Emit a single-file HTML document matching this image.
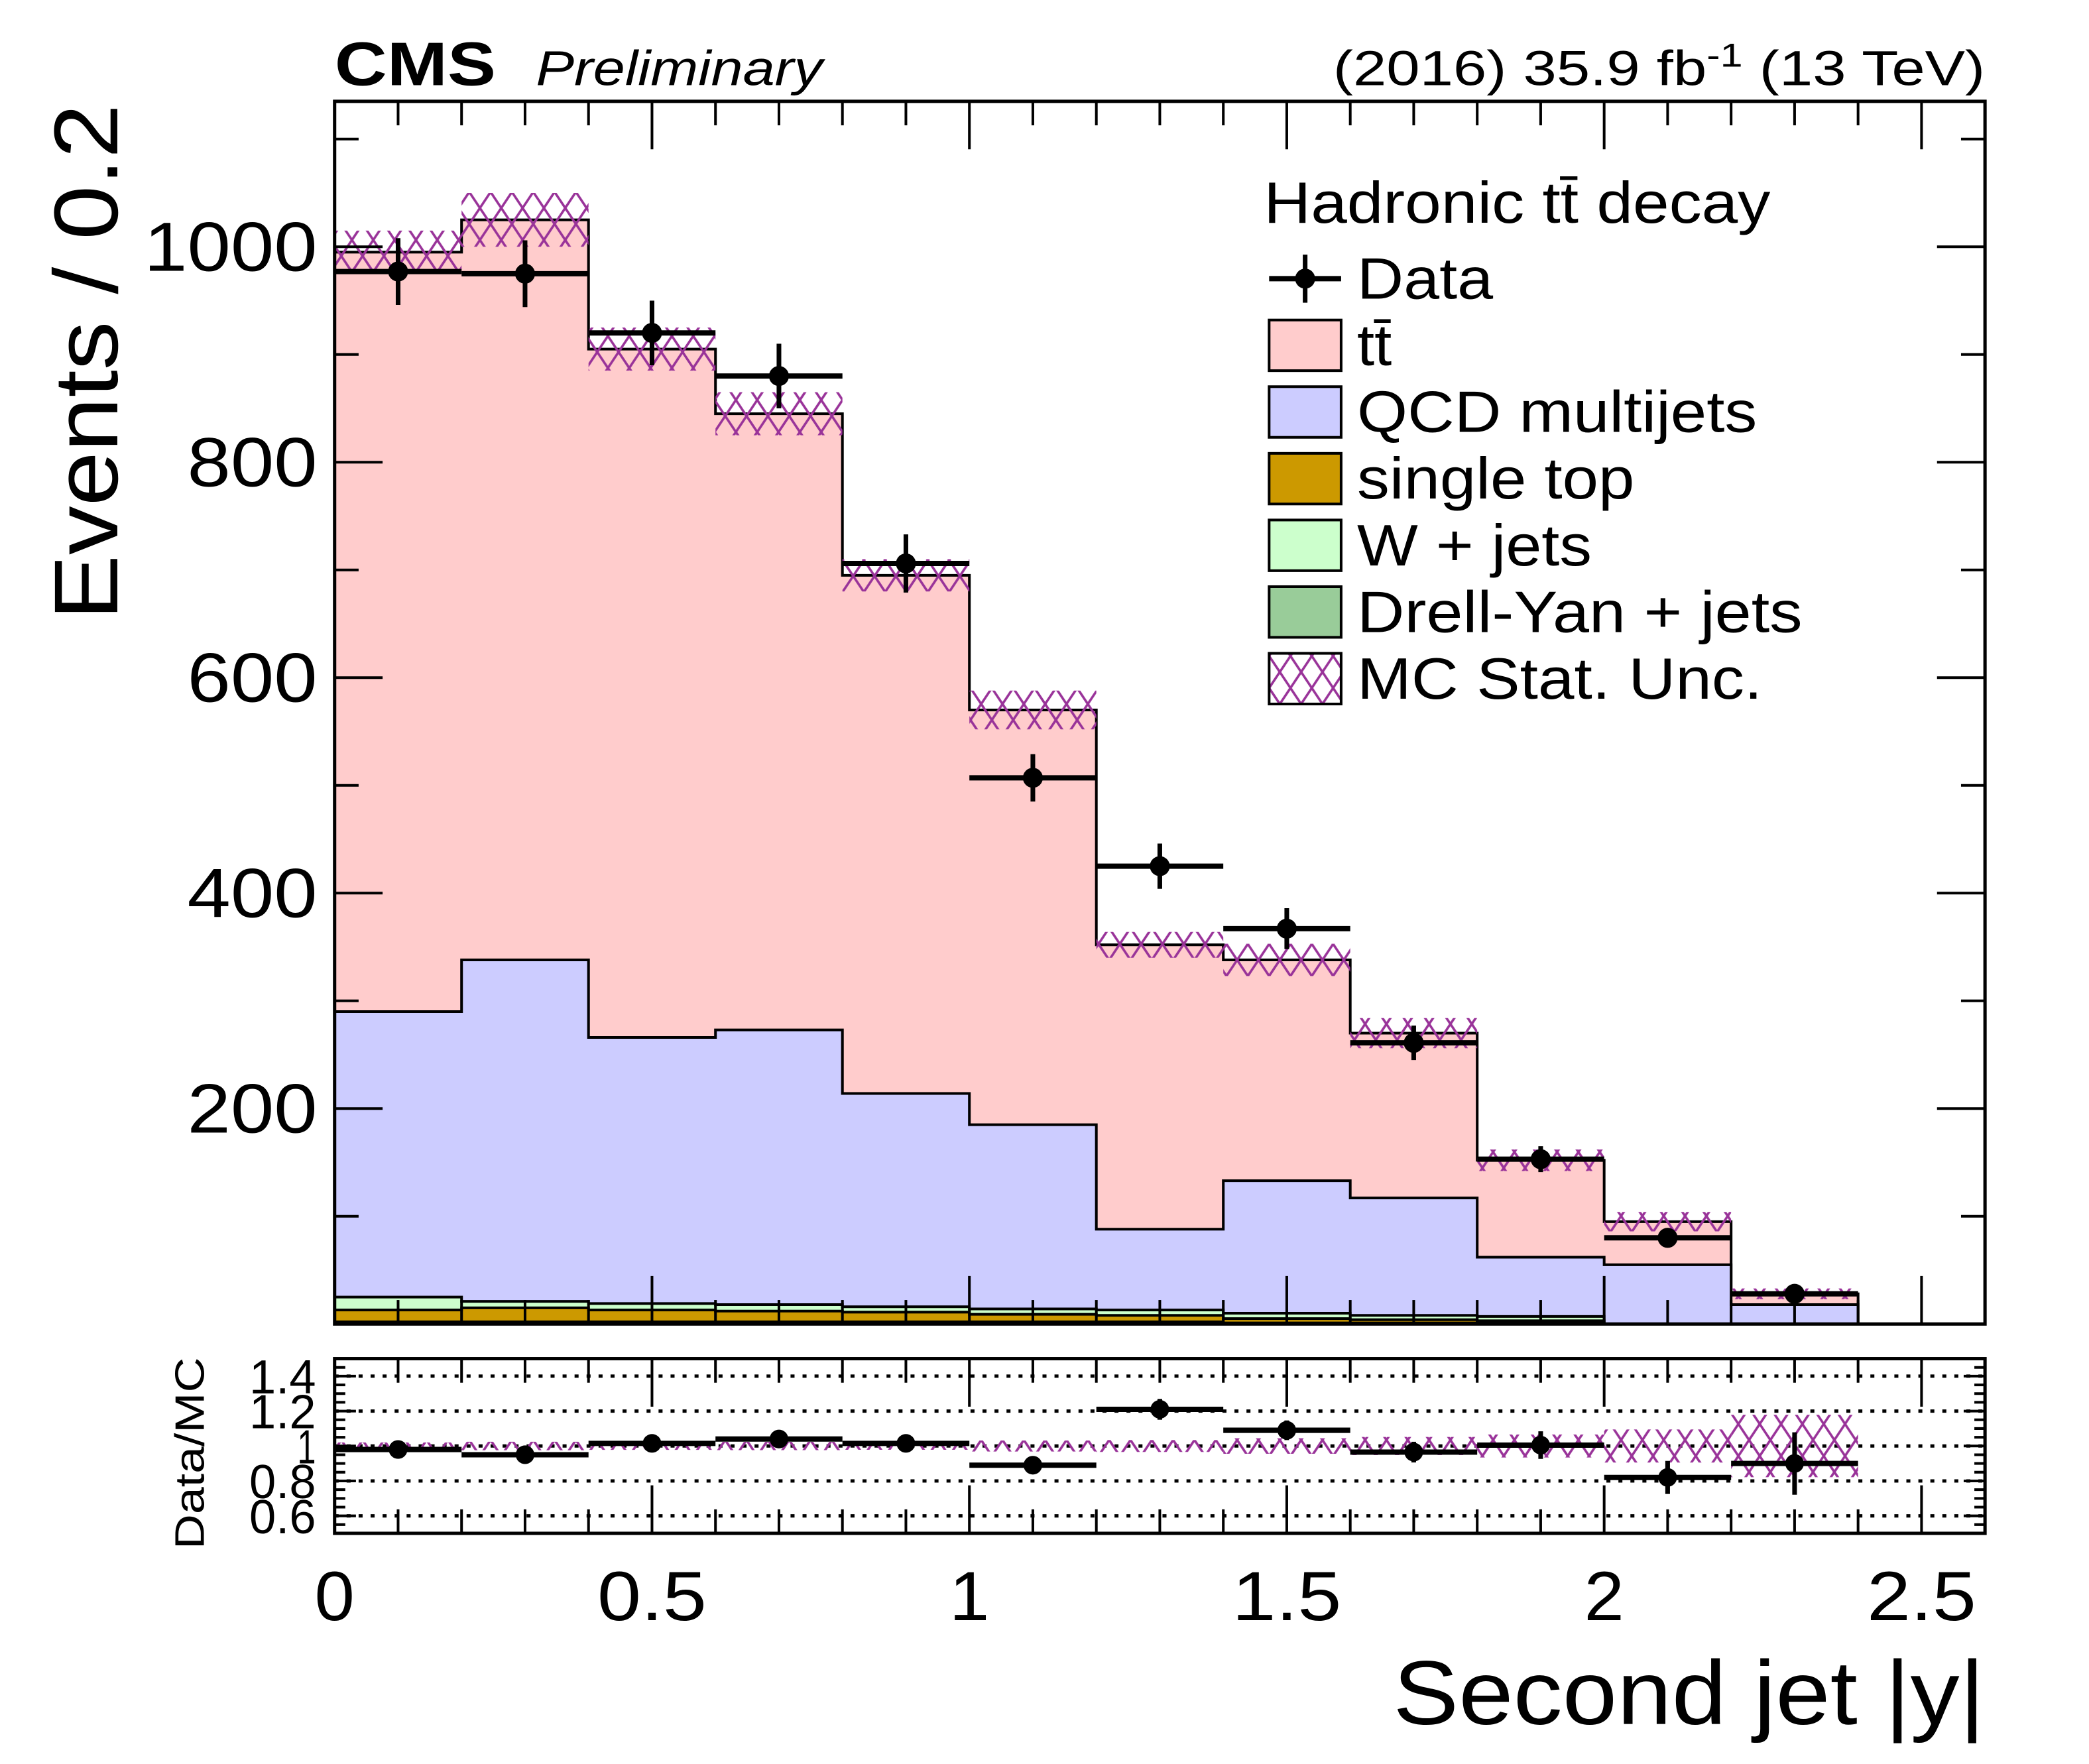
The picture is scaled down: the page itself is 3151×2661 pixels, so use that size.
<!DOCTYPE html>
<html><head><meta charset="utf-8">
<style>
html,body{margin:0;padding:0;background:#fff;}
svg{display:block;}
text{font-family:"Liberation Sans",sans-serif;fill:#000;}
</style></head>
<body>
<svg id="chart" width="3151" height="2661" viewBox="0 0 1567 1323" preserveAspectRatio="none" xmlns="http://www.w3.org/2000/svg">
<defs>
<pattern id="hatch" patternUnits="userSpaceOnUse" width="16" height="24">
<path d="M0,0 L16,24 M16,0 L0,24 M-8,12 L0,24 M8,-12 L16,0 M24,12 L16,24 M8,36 L0,24" stroke="#993399" stroke-width="1.8" fill="none"/>
</pattern>
</defs>
<g id="main"></g>
<g id="ratio"></g>
<text x="251" y="64" font-size="46" font-weight="bold" textLength="121" lengthAdjust="spacingAndGlyphs">CMS</text>
<text x="402" y="64" font-size="37" font-style="italic" textLength="215" lengthAdjust="spacingAndGlyphs">Preliminary</text>
<text x="1000" y="64" font-size="37" textLength="489" lengthAdjust="spacingAndGlyphs">(2016) 35.9 fb<tspan dy="-14" font-size="25">-1</tspan><tspan dy="14"> (13 TeV)</tspan></text>
<text transform="translate(88,465) rotate(-90)" font-size="68" textLength="387" lengthAdjust="spacingAndGlyphs">Events / 0.2</text>
<text transform="translate(153,1162) rotate(-90)" font-size="31" textLength="144" lengthAdjust="spacingAndGlyphs">Data/MC</text>
<text x="1045" y="1293" font-size="68" textLength="444" lengthAdjust="spacingAndGlyphs">Second jet |y|</text>
<g id="legend"></g>
</svg>
<script>
const binEdges = [0,0.2,0.4,0.6,0.8,1.0,1.2,1.4,1.6,1.8,2.0,2.2,2.4];
const dyValues = [2,2,2,2,2,2,2,1,1,1,0,0];
const singleTopValues = [11,13,11,10,9,7,6,4,3,2,0,0];
const wjetsValues = [12,6,6,6,5,5,5,5,4,4,0,0];
const qcdValues = [265,317,247,255,198,171,75,123,109,55,55,18];
const ttbarValues = [705,687,639,572,481,385,264,205,153,90,40,10];
const mcUncValues = [20,25,20,20,15,18,12,15,14,10,9,5];
const dataValues = [977,975,920,880,706,507,425,367,261,153,80,28];
const dataErrValues = [31,31,30,30,27,22,21,19,16,12,9,5];
const ratioValues = [0.98,0.95,1.015,1.04,1.015,0.89,1.21,1.09,0.965,1.005,0.82,0.9];
const yTickLabels = ["200","400","600","800","1000"];
const yTickValues = [200,400,600,800,1000];
const xTickLabels = ["0","0.5","1","1.5","2","2.5"];
const xTickValues = [0,0.5,1,1.5,2,2.5];
const rTickLabels = ["0.6","0.8","1","1.2","1.4"];
const rTickValues = [0.6,0.8,1.0,1.2,1.4];

const NS="http://www.w3.org/2000/svg";
const L=251,R=1489,T=76,B=993,RT=1019,RB=1150;
const X0=0,X1=2.6,Y0=0,Y1=1135,R0=0.5,R1=1.5;
function sx(v){return L+(v-X0)/(X1-X0)*(R-L);}
function sy(v){return B-(v-Y0)/(Y1-Y0)*(B-T);}
function sr(v){return RB-(v-R0)/(R1-R0)*(RB-RT);}
function mk(tag,attrs,parent){const e=document.createElementNS(NS,tag);for(const k in attrs)e.setAttribute(k,attrs[k]);parent.appendChild(e);return e;}
const main=document.getElementById('main'),ratio=document.getElementById('ratio'),leg=document.getElementById('legend');
mk('rect',{x:L,y:T,width:R-L,height:B-T,fill:'#fff'},main);

const layers=[
 {name:'dy',vals:dyValues,fill:'#99cc99'},
 {name:'single-top',vals:singleTopValues,fill:'#cc9900'},
 {name:'wjets',vals:wjetsValues,fill:'#ccffcc'},
 {name:'qcd',vals:qcdValues,fill:'#ccccff'},
 {name:'ttbar',vals:ttbarValues,fill:'#ffcccc'}];
const cum=binEdges.slice(0,-1).map(()=>0);
const tops=[];
layers.forEach(l=>{const lo=cum.slice();l.vals.forEach((v,i)=>cum[i]+=v);tops.push({l,lo,hi:cum.slice()});});
for(let k=tops.length-1;k>=0;k--){
 const {l,hi}=tops[k];
 const g=mk('g',{},main);
 
 
 hi.forEach((v,i)=>{
  if(v<=0)return;
  const r=mk('rect',{x:sx(binEdges[i]),y:sy(v),width:sx(binEdges[i+1])-sx(binEdges[i])+0.5,height:sy(0)-sy(v),fill:l.fill},g);
  
  
 });
 let d='M'+sx(0)+','+sy(0);
 hi.forEach((v,i)=>{d+=' L'+sx(binEdges[i])+','+sy(v)+' L'+sx(binEdges[i+1])+','+sy(v);});
 d+=' L'+sx(binEdges[binEdges.length-1])+','+sy(0);
 mk('path',{d:d,fill:'none',stroke:'#000','stroke-width':2},g);
}
const ug=mk('g',{},main);


cum.forEach((v,i)=>{
 mk('rect',{x:sx(binEdges[i]),y:sy(v+mcUncValues[i]),width:sx(binEdges[i+1])-sx(binEdges[i]),height:sy(v-mcUncValues[i])-sy(v+mcUncValues[i]),fill:'url(#hatch)'},ug);
});
const dg=mk('g',{},main);


dataValues.forEach((v,i)=>{
 const xc=sx((binEdges[i]+binEdges[i+1])/2);
 mk('line',{x1:sx(binEdges[i]),x2:sx(binEdges[i+1]),y1:sy(v),y2:sy(v),stroke:'#000','stroke-width':4},dg);
 mk('line',{x1:xc,x2:xc,y1:sy(v+dataErrValues[i]),y2:sy(v-dataErrValues[i]),stroke:'#000','stroke-width':3.5},dg);
 const c=mk('circle',{cx:xc,cy:sy(v),r:7.5,fill:'#000'},dg);
 
 
});
function xticks(par,top,bot){
 for(let k=0;k<=26;k++){const v=k/10,x=sx(v),len=(k%5===0)?36:18;
  mk('line',{x1:x,x2:x,y1:bot,y2:bot-len,stroke:'#000','stroke-width':2},par);
  mk('line',{x1:x,x2:x,y1:top,y2:top+len,stroke:'#000','stroke-width':2},par);}
}
xticks(main,T,B);
for(let v=100;v<=1100;v+=100){const y=sy(v),len=(v%200===0)?36:18;
 mk('line',{x1:L,x2:L+len,y1:y,y2:y,stroke:'#000','stroke-width':2},main);
 mk('line',{x1:R,x2:R-len,y1:y,y2:y,stroke:'#000','stroke-width':2},main);}
yTickValues.forEach((v,i)=>{const t=mk('text',{x:238,y:sy(v)+18,'font-size':52,'text-anchor':'end',textLength:yTickLabels[i].length*32.5,lengthAdjust:'spacingAndGlyphs'},main);t.textContent=yTickLabels[i];
 
 });
mk('rect',{x:L,y:T,width:R-L,height:B-T,fill:'none',stroke:'#000','stroke-width':2.5},main);

mk('rect',{x:L,y:RT,width:R-L,height:RB-RT,fill:'#fff'},ratio);
rTickValues.forEach(v=>mk('line',{x1:L,x2:R,y1:sr(v),y2:sr(v),stroke:'#000','stroke-width':2.5,'stroke-dasharray':'3,6'},ratio));
cum.forEach((v,i)=>{const u=mcUncValues[i]/v;
 mk('rect',{x:sx(binEdges[i]),y:sr(1+u),width:sx(binEdges[i+1])-sx(binEdges[i]),height:sr(1-u)-sr(1+u),fill:'url(#hatch)'},ratio);});
ratioValues.forEach((v,i)=>{
 const xc=sx((binEdges[i]+binEdges[i+1])/2),e=dataErrValues[i]/cum[i];
 mk('line',{x1:sx(binEdges[i]),x2:sx(binEdges[i+1]),y1:sr(v),y2:sr(v),stroke:'#000','stroke-width':4},ratio);
 mk('line',{x1:xc,x2:xc,y1:sr(v+e),y2:sr(v-e),stroke:'#000','stroke-width':3.5},ratio);
 const c=mk('circle',{cx:xc,cy:sr(v),r:7,fill:'#000'},ratio);
 
 
});
for(let k=0;k<=26;k++){const x=sx(k/10),len=(k%5===0)?36:18;
 mk('line',{x1:x,x2:x,y1:RB,y2:RB-len,stroke:'#000','stroke-width':2},ratio);
 mk('line',{x1:x,x2:x,y1:RT,y2:RT+len,stroke:'#000','stroke-width':2},ratio);}
for(let k=11;k<=29;k++){const v=k*0.05,y=sr(v),len=(k%4===0)?16:8;
 mk('line',{x1:L,x2:L+len,y1:y,y2:y,stroke:'#000','stroke-width':2},ratio);
 mk('line',{x1:R,x2:R-len,y1:y,y2:y,stroke:'#000','stroke-width':2},ratio);}
rTickValues.forEach((v,i)=>{const t=mk('text',{x:237,y:sr(v)+13,'font-size':36,'text-anchor':'end',textLength:rTickLabels[i].length>1?50:14,lengthAdjust:'spacingAndGlyphs'},ratio);t.textContent=rTickLabels[i];
 
 });
xTickValues.forEach((v,i)=>{const t=mk('text',{x:sx(v),y:1215,'font-size':52,'text-anchor':'middle',textLength:xTickLabels[i].length>1?82:30,lengthAdjust:'spacingAndGlyphs'},ratio);t.textContent=xTickLabels[i];
 
 });
mk('rect',{x:L,y:RT,width:R-L,height:RB-RT,fill:'none',stroke:'#000','stroke-width':2.5},ratio);

const lt=mk('text',{x:948,y:167,'font-size':44,textLength:380,lengthAdjust:'spacingAndGlyphs'},leg);
lt.textContent='Hadronic tt\u0304 decay';


const entries=[['Data',null],['tt\u0304','#ffcccc'],['QCD multijets','#ccccff'],['single top','#cc9900'],['W + jets','#ccffcc'],['Drell-Yan + jets','#99cc99'],['MC Stat. Unc.','url(#hatch)']];
const widths=[102,26,300,208,176,334,304];
entries.forEach((e,i)=>{
 const cy=203+i*50;
 const g=mk('g',{},leg);
 
 
 if(e[1]===null){
  mk('line',{x1:952,x2:1006,y1:cy+6,y2:cy+6,stroke:'#000','stroke-width':4},g);
  mk('line',{x1:979,x2:979,y1:cy-12,y2:cy+24,stroke:'#000','stroke-width':3.5},g);
  mk('circle',{cx:979,cy:cy+6,r:7.5,fill:'#000'},g);
 } else {
  mk('rect',{x:952,y:cy-13,width:54,height:38,fill:e[1],stroke:'#000','stroke-width':2},g);
 }
 const t=mk('text',{x:1018,y:cy+21,'font-size':44,textLength:widths[i],lengthAdjust:'spacingAndGlyphs'},g);
 t.textContent=e[0];
});
</script>
</body></html>
